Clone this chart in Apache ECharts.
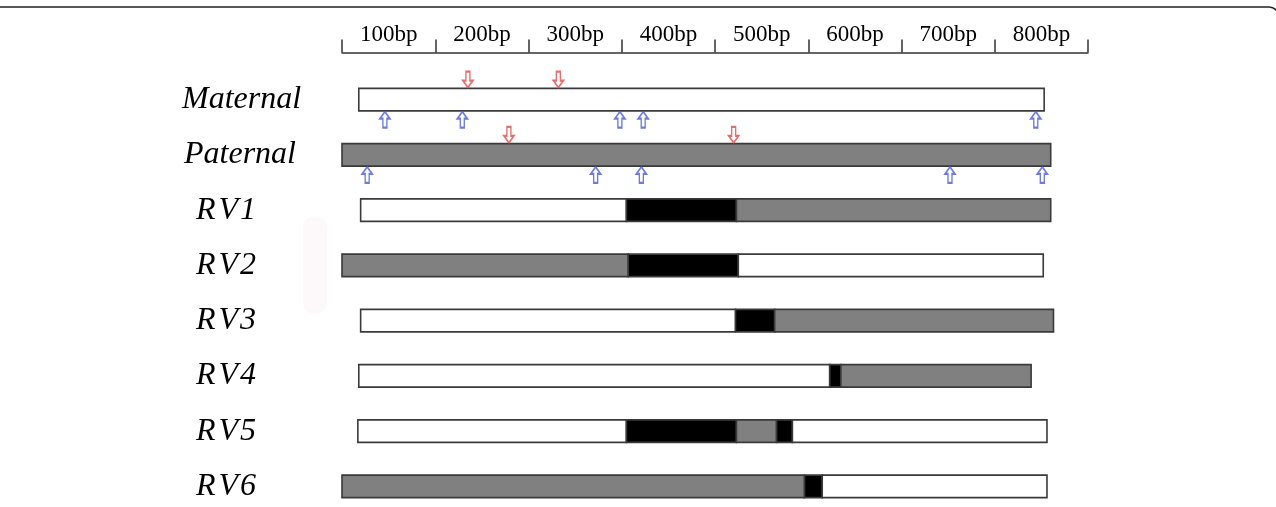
<!DOCTYPE html>
<html>
<head>
<meta charset="utf-8">
<script src="https://cdn.jsdelivr.net/npm/echarts@6/dist/echarts.min.js"></script>
<style>html,body{margin:0;padding:0;background:#fff}#c{width:1276px;height:507px}</style>
</head>
<body>
<div id="c"></div>
<script>
// ---- data ----
const tickLabels = ['100bp','200bp','300bp','400bp','500bp','600bp','700bp','800bp'];
const rowNames = ['Maternal','Paternal','RV1','RV2','RV3','RV4','RV5','RV6'];
// breakpoints (bp) of each row and the kind of each segment between them
const rowBreaks = [
  [18, 753],
  [0, 760],
  [20, 305, 423, 760],
  [0, 307, 425, 752],
  [20, 422, 464, 763],
  [18, 523, 535, 739],
  [17, 305, 423, 466, 483, 756],
  [0, 496, 515, 756]
];
const rowKinds = [
  ['W'],
  ['G'],
  ['W','B','G'],
  ['G','B','W'],
  ['W','B','G'],
  ['W','B','G'],
  ['W','B','G','B','W'],
  ['G','B','W']
];
const maternalRed = [135, 232];
const maternalBlue = [46, 129, 298, 323, 744];
const paternalRed = [179, 420];
const paternalBlue = [27, 272, 321, 652, 751];

// ---- build ----
const kindColor = {W:'#ffffff', G:'#808080', B:'#000000'};
const segData = [];
rowBreaks.forEach((br, r) => {
  for (let i = 0; i < br.length - 1; i++) {
    segData.push([br[i], br[i+1], r, rowKinds[r][i]]);
  }
});
const downArrow = 'path://M3,0 L7,0 L7,9 L10,9 L5,16 L0,9 L3,9 Z';
const upArrow = 'path://M5,0 L10,7 L7,7 L7,16 L3,16 L3,7 L0,7 Z';
function arrows(vals, row) { return vals.map(v => [v, row]); }

const chart = echarts.init(document.getElementById('c'), null, {renderer:'canvas'});
const serif = 'Liberation Serif';
function labelFmt(v) {
  if (v.startsWith('RV')) {
    return v.split('').map((ch, i) => '{' + (i === 0 ? 'r0' : 'r') + '|' + ch + '}').join('');
  }
  return v === 'Paternal' ? '{p|' + v + '}' : '{m|' + v + '}';
}
const lblBase = {fontFamily: serif, fontStyle: 'italic', fontSize: 32, color: '#000'};
chart.setOption({
  animation: false,
  backgroundColor: '#ffffff',
  grid: {left: 342, right: 188, top: 72, height: 442, outerBoundsMode: 'none', containLabel: false},
  xAxis: [
    {
      type: 'category', position: 'top', data: tickLabels, boundaryGap: true, offset: 19.5,
      axisLine: {show: true, lineStyle: {color: '#333', width: 1.5}},
      axisTick: {show: true, length: 13, inside: false, lineStyle: {color: '#333', width: 1.5}},
      axisLabel: {color: '#000', fontFamily: serif, fontSize: 23, margin: 6},
      splitLine: {show: false}
    },
    {
      type: 'value', min: 0, max: 800, show: false, splitLine: {show: false}
    }
  ],
  yAxis: {
    type: 'category', inverse: true, data: rowNames,
    axisLine: {show: false}, axisTick: {show: false}, splitLine: {show: false},
    axisLabel: {
      align: 'left', margin: 160,
      formatter: labelFmt,
      rich: {
        m: Object.assign({}, lblBase),
        p: Object.assign({}, lblBase, {padding: [0, 0, 0, 2]}),
        r0: Object.assign({}, lblBase, {padding: [0, 3, 0, 14]}),
        r: Object.assign({}, lblBase, {padding: [0, 2, 0, 0]})
      }
    }
  },
  series: [
    {
      type: 'custom', xAxisIndex: 1, yAxisIndex: 0,
      encode: {x: [0, 1], y: 2},
      data: segData,
      renderItem: function (params, api) {
        const s = api.coord([api.value(0), api.value(2)]);
        const e = api.coord([api.value(1), api.value(2)]);
        const h = 22.5;
        const kind = segData[params.dataIndex][3];
        return {
          type: 'rect',
          shape: {x: s[0], y: s[1] - h / 2, width: e[0] - s[0], height: h},
          style: {fill: kindColor[kind], stroke: '#3a3a3a', lineWidth: 1.6}
        };
      }
    },
    {
      type: 'scatter', xAxisIndex: 1, yAxisIndex: 0,
      symbol: downArrow, symbolSize: [10, 16], symbolOffset: [0, -20],
      itemStyle: {color: '#ffffff', borderColor: '#e04848', borderWidth: 1.7},
      data: arrows(maternalRed, 0).concat(arrows(paternalRed, 1)), z: 5
    },
    {
      type: 'scatter', xAxisIndex: 1, yAxisIndex: 0,
      symbol: upArrow, symbolSize: [10, 16], symbolOffset: [0, 20],
      itemStyle: {color: '#ffffff', borderColor: '#4a5ad8', borderWidth: 1.7},
      data: arrows(maternalBlue, 0).concat(arrows(paternalBlue, 1)), z: 5
    }
  ],
  graphic: [
    {type: 'rect', z: -10, shape: {x: -10, y: 7, width: 1289, height: 620, r: 10},
     style: {fill: 'none', stroke: '#222', lineWidth: 1.6}},
    {type: 'rect', z: -10, shape: {x: 303, y: 216, width: 24, height: 98, r: 12},
     style: {fill: '#fdf9fa', stroke: null}}
  ]
});
</script>
</body>
</html>
